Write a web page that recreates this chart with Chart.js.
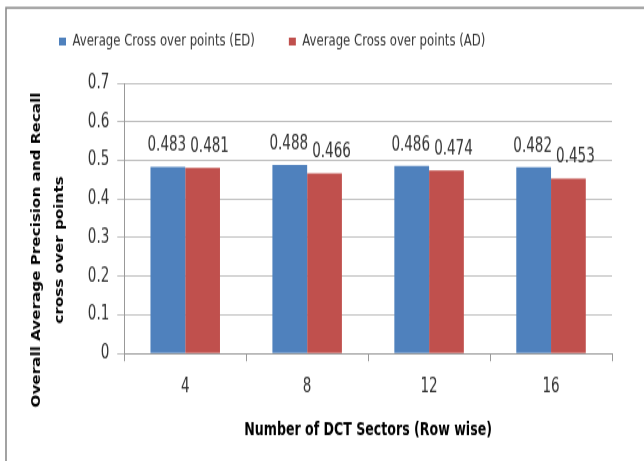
<!DOCTYPE html>
<html>
<head>
<meta charset="utf-8">
<script src="https://cdn.jsdelivr.net/npm/chart.js@4"></script>
<style>
  html, body { margin: 0; padding: 0; background: #fff; width: 644px; height: 461px; }
  /* o original é um gráfico esticado na vertical: desenho em 644x355 e estico para 461 */
  #wrap { width: 644px; height: 355px; transform: scaleY(1.2986); transform-origin: 0 0; }
</style>
</head>
<body>
<div id="wrap"><canvas id="grafico" width="644" height="355"></canvas></div>
<script>
// --- DADOS ---
const categorias = ["4", "8", "12", "16"];
const valoresED = [0.483, 0.488, 0.486, 0.482];
const valoresAD = [0.481, 0.466, 0.474, 0.453];
const nomesSeries = ["Average Cross over points (ED)", "Average Cross over points (AD)"];
const tituloX = "Number of DCT Sectors (Row wise)";
const tituloY = ["Overall Average Precision and Recall", "cross over points"];

const FONTE = '"DejaVu Sans Condensed", "Open Sans", sans-serif';

// espaços no fim empurram o título do eixo Y um pouco para baixo, como no original
const ESPACO_Y = "            ";

// moldura cinza (só topo e esquerda aparecem na imagem)
const moldura = {
    id: "moldura",
    afterInit(chart) {
        // legenda com mais espaço embaixo, antes da área do gráfico
        const fitOriginal = chart.legend.fit;
        chart.legend.fit = function () {
            fitOriginal.call(this);
            this.height += 15.5;
        };
    },
    beforeDraw(chart) {
        const ctx = chart.ctx;
        ctx.save();
        ctx.strokeStyle = "#8c8c8c";
        ctx.lineWidth = 1.6;
        ctx.beginPath();
        ctx.moveTo(6, chart.height);
        ctx.lineTo(6, 6);
        ctx.lineTo(chart.width, 6);
        ctx.stroke();
        ctx.restore();
    }
};

// rótulos de valor acima das barras (os da 2a série ficam um pouco à direita, como no original)
const rotulos = {
    id: "rotulos",
    afterDatasetsDraw(chart) {
        const ctx = chart.ctx;
        ctx.save();
        ctx.font = "15px " + FONTE;
        ctx.fillStyle = "#333";
        ctx.textAlign = "center";
        ctx.textBaseline = "bottom";
        chart.data.datasets.forEach((ds, i) => {
            const desvio = i === 0 ? -1 : 7;
            chart.getDatasetMeta(i).data.forEach((bar, j) => {
                ctx.fillText(ds.data[j].toFixed(3), bar.x + desvio, bar.y - 8.5);
            });
        });
        ctx.restore();
    }
};

new Chart(document.getElementById("grafico").getContext("2d"), {
    type: "bar",
    data: {
        labels: categorias,
        datasets: [
            { label: nomesSeries[0], data: valoresED, backgroundColor: "#4F81BD" },
            { label: nomesSeries[1], data: valoresAD, backgroundColor: "#C0504D" }
        ]
    },
    options: {
        responsive: false,
        animation: false,
        layout: { padding: { left: 25, right: 32, top: -8.5, bottom: 15.5 } },
        datasets: { bar: { categoryPercentage: 0.57, barPercentage: 1.0 } },
        plugins: {
            legend: {
                position: "top",
                align: "start",
                labels: {
                    boxWidth: 7,
                    boxHeight: 6,
                    padding: 34,
                    color: "#333",
                    font: { family: FONTE, size: 13 }
                }
            },
            tooltip: { enabled: false }
        },
        scales: {
            x: {
                grid: { offset: true, drawOnChartArea: false, color: "#999", tickLength: 6 },
                border: { color: "#999" },
                ticks: { color: "#333", padding: 10.5, font: { family: FONTE, size: 15 } },
                title: {
                    display: true, text: tituloX, color: "#000",
                    padding: { top: 5.5, bottom: 0 },
                    font: { family: FONTE, size: 14, weight: "bold" }
                }
            },
            y: {
                min: 0, max: 0.7,
                ticks: { stepSize: 0.1, color: "#333", padding: 8, font: { family: FONTE, size: 15 } },
                grid: { color: "#bdbdbd", tickLength: 7 },
                border: { color: "#999" },
                title: {
                    display: true, text: tituloY.map(t => t + ESPACO_Y), color: "#000",
                    padding: { top: 0, bottom: 8 },
                    font: { family: FONTE, size: 13, weight: "bold", lineHeight: 1.8 }
                }
            }
        }
    },
    plugins: [moldura, rotulos]
});
</script>
</body>
</html>
